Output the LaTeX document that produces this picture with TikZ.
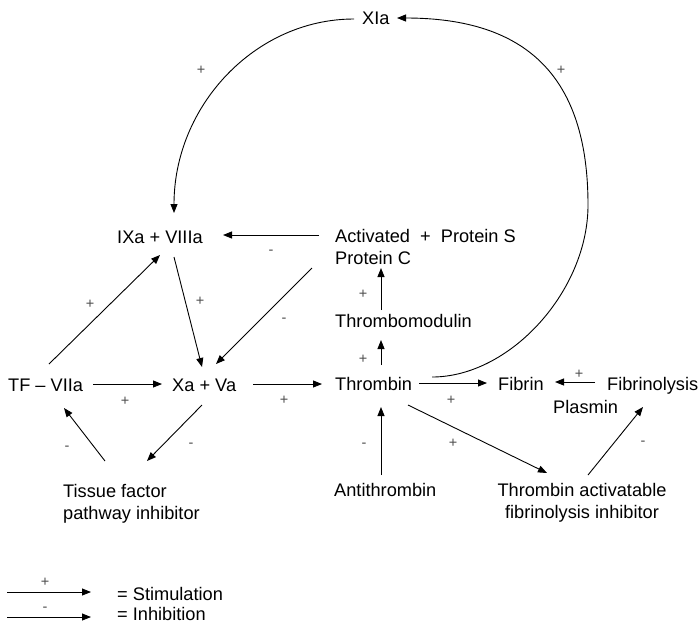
\documentclass[tikz,border=0pt]{standalone}
\usepackage{fontspec}
\setmainfont{Liberation Sans}
\usetikzlibrary{arrows.meta,calc}
\begin{document}
\begin{tikzpicture}[x=1pt,y=-1pt,
  txt/.style={inner sep=0pt,anchor=base west,font=\fontsize{18.2}{22}\selectfont},
  ctxt/.style={txt,anchor=base},
  sg/.style={inner sep=0pt,anchor=base,font=\fontsize{14.5}{16}\selectfont,text=black!70},
  arr/.style={line width=0.9pt,-{Triangle[length=9pt,width=7pt]}}]
\useasboundingbox (0,0) rectangle (700,625);

% text nodes
\node[txt] (xia) at (362,24) {XIa};
\node[txt] (ix) at (117,243) {IXa + VIIIa};
\node[txt] (apc) at (335,242) {Activated~~+~~Protein S};
\node[txt] (apcb) at (335,264) {Protein C};
\node[txt] (tm) at (335,327) {Thrombomodulin};
\node[txt] (tf) at (8,391) {TF – VIIa};
\node[txt] (xa) at (172,391) {Xa + Va};
\node[txt] (thr) at (335,390) {Thrombin};
\node[txt] (fib) at (498,390) {Fibrin};
\node[txt] (fbl) at (607,390) {Fibrinolysis};
\node[txt] (pla) at (553,413) {Plasmin};
\node[txt] (at) at (334,496) {Antithrombin};
\node[txt] (tfpi) at (63,497) {Tissue factor};
\node[txt] (tfpib) at (63,519) {pathway inhibitor};
\node[ctxt] (tafi) at (582,496) {Thrombin activatable};
\node[ctxt] (tafib) at (582,518) {fibrinolysis inhibitor};
\node[txt] (stim) at (117,600) {= Stimulation};
\node[txt] (inh) at (117,620) {= Inhibition};

% connectors
\draw[arr] ($(xia.base west)+(-8,-5)$) .. controls +(-99,0) and +(0,-107) .. ($(ix.base west)+(57,-30)$);
\coordinate (arcR) at (588,205);
\draw[arr] ($(thr.base west)+(97,-13)$) .. controls +(78,0) and +(0,86) .. (arcR)
  .. controls +(0,-128) and +(130,0) .. ($(xia.base west)+(35,-6)$);
\draw[arr] ($(apc.base west)+(-16,-7)$) -- ($(ix.base west)+(106,-8)$);
\draw[arr] ($(apc.base west)+(-23,26)$) -- ($(xa.base west)+(44,-27)$);
\draw[arr] ($(ix.base west)+(57,14)$) -- ($(xa.base west)+(30,-24)$);
\draw[arr] ($(tf.base west)+(41,-27)$) -- ($(ix.base west)+(43,12)$);
\draw[arr] ($(tf.base west)+(85,-7)$) -- ($(xa.base west)+(-10,-7)$);
\draw[arr] ($(xa.base west)+(81,-7)$) -- ($(thr.base west)+(-13,-6)$);
\draw[arr] ($(thr.base west)+(84,-7)$) -- ($(fib.base west)+(-11,-7)$);
\draw[arr] ($(fbl.base west)+(-12,-8)$) -- ($(fib.base west)+(57,-8)$);
\draw[arr] ($(thr.base west)+(46,-25)$) -- ($(tm.base west)+(46,13)$);
\draw[arr] ($(tm.base west)+(46,-17)$) -- ($(apcb.base west)+(46,4)$);
\draw[arr] ($(at.base west)+(47,-21)$) -- ($(thr.base west)+(46,17)$);
\draw[arr] ($(thr.base west)+(73,15)$) -- ($(tafi.base)+(-35,-23)$);
\draw[arr] ($(tafi.base)+(6,-21)$) -- ($(pla.base west)+(90,-6)$);
\draw[arr] ($(tfpi.base west)+(42,-36)$) -- ($(tf.base west)+(56,17)$);
\draw[arr] ($(xa.base west)+(30,14)$) -- ($(tfpi.base west)+(84,-36)$);

% legend
\coordinate (s1) at (7,592); \coordinate (s2) at (91,592);
\coordinate (i1) at (7,617); \coordinate (i2) at (91,617);
\draw[arr] (s1) -- (s2);
\draw[arr] (i1) -- (i2);

% signs
\node[sg] (p1) at (201,74) {+};
\node[sg] (p2) at (561,74) {+};
\node[sg] (m1) at (271,254) {-};
\node[sg] (m2) at (284,322) {-};
\node[sg] (p3) at (200,305) {+};
\node[sg] (p4) at (90,308) {+};
\node[sg] (p5) at (125,405) {+};
\node[sg] (p6) at (284,404) {+};
\node[sg] (p7) at (451,404) {+};
\node[sg] (p8) at (579,378) {+};
\node[sg] (p9) at (363,363) {+};
\node[sg] (p10) at (363,298) {+};
\node[sg] (m3) at (364,447) {-};
\node[sg] (p11) at (453,447) {+};
\node[sg] (m4) at (643,445) {-};
\node[sg] (m5) at (67,450) {-};
\node[sg] (m6) at (191,447) {-};
\node[sg] (p12) at (45,586) {+};
\node[sg] (m7) at (45,611) {-};
\end{tikzpicture}
\end{document}
